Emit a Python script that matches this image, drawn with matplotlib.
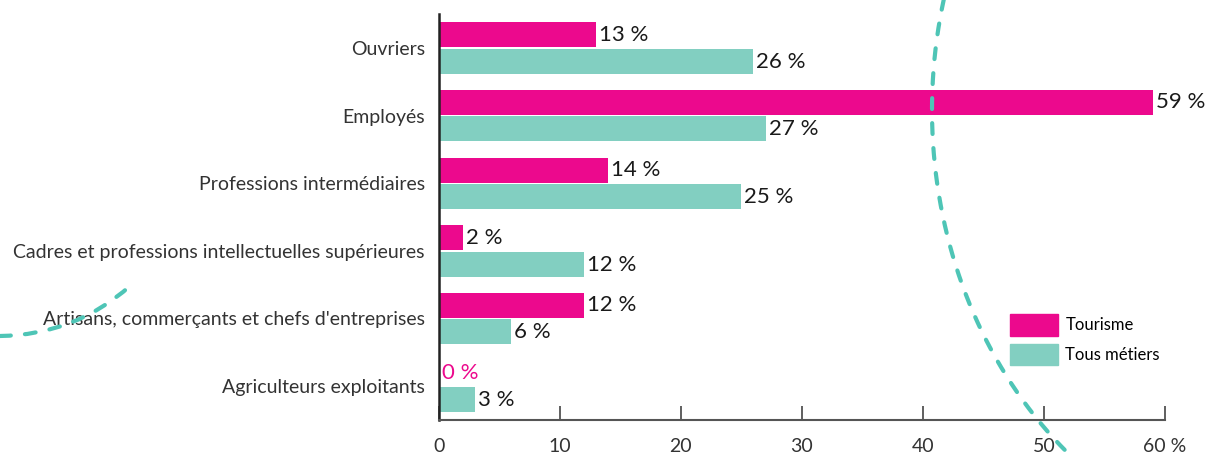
import matplotlib.pyplot as plt
import numpy as np
from matplotlib.patches import Patch, PathPatch
from matplotlib.path import Path

plt.rcParams['font.family'] = ['Lato', 'DejaVu Sans']

categories = ["Ouvriers", "Employés", "Professions intermédiaires",
              "Cadres et professions intellectuelles supérieures",
              "Artisans, commerçants et chefs d'entreprises",
              "Agriculteurs exploitants"]
tourisme = [13, 59, 14, 2, 12, 0]
tous_metiers = [26, 27, 25, 12, 6, 3]
x_ticks = [0, 10, 20, 30, 40, 50, 60]
x_ticklabels = ["0", "10", "20", "30", "40", "50", "60 %"]

pink = "#ec098d"
teal = "#82cfc1"
deco = "#4ec5b6"

fig = plt.figure(figsize=(12.09, 4.55), dpi=100)
ax = fig.add_axes([0.363, 0.077, 0.6005, 0.892])

y = np.arange(len(categories))
h = 0.37
ax.barh(y - h / 2 - 0.01, tourisme, height=h, color=pink, label="Tourisme")
ax.barh(y + h / 2 + 0.01, tous_metiers, height=h, color=teal, label="Tous métiers")

for yi, v in zip(y, tourisme):
    ax.text(v + 0.25, yi - h / 2 - 0.01, f"{v} %", va="center", ha="left", fontsize=16,
            color=pink if v == 0 else "#1a1a1a")
for yi, v in zip(y, tous_metiers):
    ax.text(v + 0.25, yi + h / 2 + 0.02, f"{v} %", va="center", ha="left", fontsize=16,
            color="#1a1a1a")

ax.set_ylim(5.5, -0.5)
ax.set_xlim(0, 60)
ax.set_yticks(y)
ax.set_yticklabels(categories, fontsize=14, color="#333333")
ax.tick_params(axis="y", length=0, pad=10)
ax.set_xticks(x_ticks)
ax.set_xticklabels(x_ticklabels, fontsize=14, color="#333333")
ax.tick_params(axis="x", direction="in", length=10, width=1.2, color="#444444", pad=13)

for s in ["top", "right"]:
    ax.spines[s].set_visible(False)
ax.spines["left"].set_color("#222222")
ax.spines["left"].set_linewidth(1.8)
ax.spines["bottom"].set_color("#555555")
ax.spines["bottom"].set_linewidth(1.5)

handles = [Patch(color=pink, label="Tourisme"), Patch(color=teal, label="Tous métiers")]
ax.legend(handles=handles, loc="upper left", bbox_to_anchor=(0.786, 0.261),
          frameon=False, fontsize=12, handlelength=2.9, handleheight=1.62,
          borderpad=0, borderaxespad=0, labelspacing=0.48, handletextpad=0.45)

# decorative dashed curves, in figure pixel space
ov = fig.add_axes([0, 0, 1, 1], zorder=5)
ov.set_xlim(0, 1209)
ov.set_ylim(455, 0)
ov.axis("off")
cx, cy, a, b = 1317, 110, 385, 450
t = np.linspace(-0.26, 0.90, 300)
ov.plot(cx - a * np.cos(t), cy + b * np.sin(t), color=deco, lw=3,
        dashes=(2.6, 3.4), dash_capstyle="round")
path = Path([(0, 336), (75, 335), (130, 286)], [Path.MOVETO, Path.CURVE3, Path.CURVE3])
ov.add_patch(PathPatch(path, fill=False, edgecolor=deco, lw=3,
                       linestyle=(0, (2.6, 3.4)), capstyle="round"))

fig.savefig("out.png", dpi=100)
